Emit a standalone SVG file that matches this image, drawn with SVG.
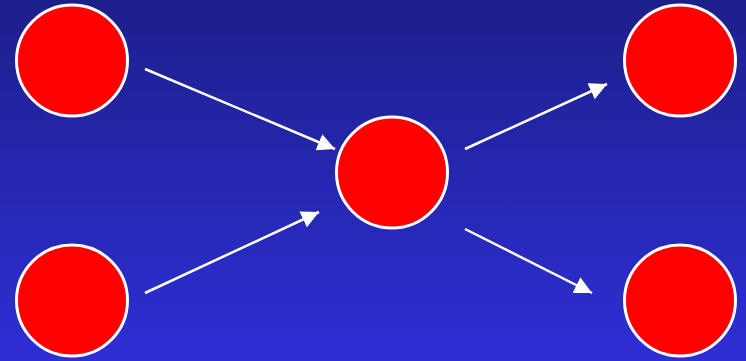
<svg xmlns="http://www.w3.org/2000/svg" width="746" height="361" viewBox="0 0 746 361">
<defs>
<linearGradient id="bg" x1="0" y1="0" x2="0" y2="1">
<stop offset="0" stop-color="#1d1f8c"/>
<stop offset="1" stop-color="#2d2fd5"/>
</linearGradient>
<marker id="ah" viewBox="0 0 10 10" refX="10" refY="5" markerWidth="7" markerHeight="7" markerUnits="strokeWidth" orient="auto">
<path d="M0,0 L10,5 L0,10 Z" fill="#ffffff"/>
</marker>
<style>
.node{fill:#ff0000;stroke:#ffffff;stroke-width:3}
.edge{stroke:#ffffff;stroke-width:2.5;fill:none;marker-end:url(#ah)}
</style>
</defs>
<rect x="0" y="0" width="746" height="361" fill="url(#bg)"/>
<g id="n1"><circle class="node" cx="72" cy="60.5" r="55.5"/></g>
<g id="n2"><circle class="node" cx="72" cy="300.5" r="55.5"/></g>
<g id="n3"><circle class="node" cx="392" cy="172.5" r="55.5"/></g>
<g id="n4"><circle class="node" cx="680" cy="60.5" r="55.5"/></g>
<g id="n5"><circle class="node" cx="680" cy="300.5" r="55.5"/></g>
<g id="connectors">
<line class="edge" x1="145" y1="69" x2="335" y2="149"/>
<line class="edge" x1="145" y1="293" x2="319" y2="212"/>
<line class="edge" x1="465" y1="149" x2="607" y2="84"/>
<line class="edge" x1="465" y1="229" x2="592" y2="293"/>
</g>
</svg>
